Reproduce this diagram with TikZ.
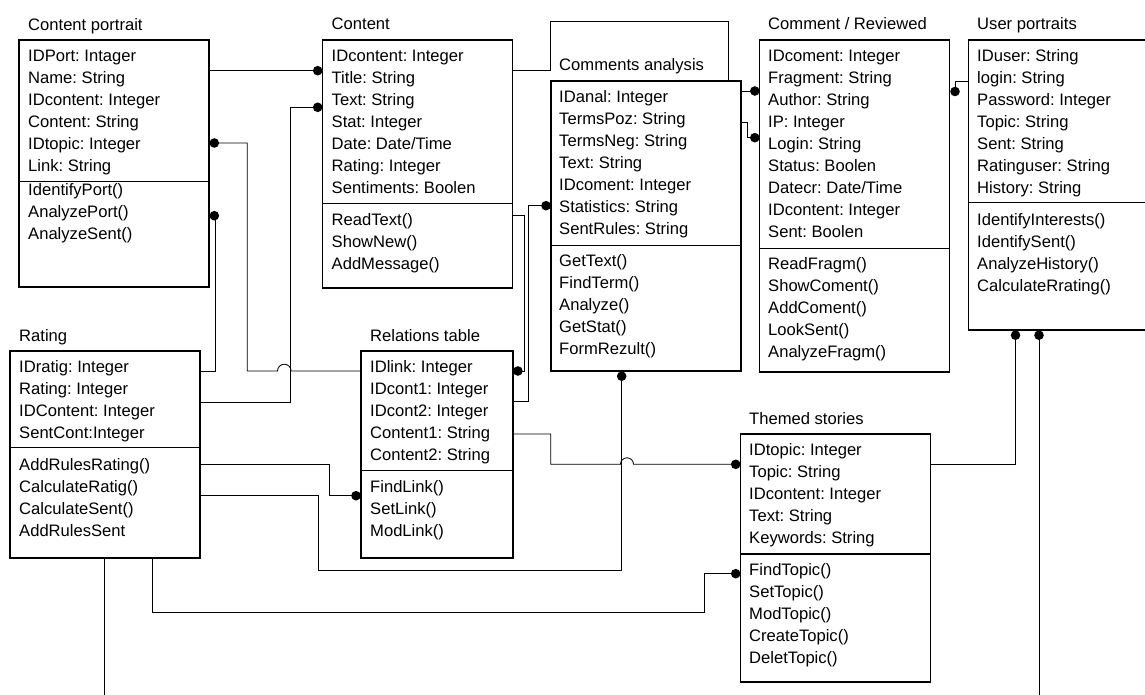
\documentclass[tikz,border=0pt]{standalone}
\usepackage{fontspec}
\setmainfont{Liberation Sans}
\usetikzlibrary{backgrounds}
\frenchspacing

% one row of class text per line, 22pt apart, starting at a given baseline
\newcommand\classrows[4]{%
  \foreach \rowtext [count=\rowidx] in {#4}{%
    \node[rowtext] (#1\rowidx) at (#2,{#3+22*(\rowidx-1)}) {\rowtext};}}

\begin{document}
\begin{tikzpicture}[x=1pt,y=-1pt,
  classbox/.style={draw=black, line width=1.2pt, fill=white, rectangle,
    inner sep=0pt, outer sep=0pt, anchor=north west},
  divider/.style={line width=1.2pt},
  rowtext/.style={font=\fontsize{16.6}{22}\selectfont\frenchspacing, inner sep=0pt, anchor=base west},
  classtitle/.style={rowtext},
  link/.style={line width=0.85pt, draw=black},
  endpt/.style={circle, fill=black, inner sep=0pt, minimum size=9.6pt},
]
\useasboundingbox (0,0) rectangle (1145,695);
\clip (0,0) rectangle (1145,695);

% ---------- Content portrait ----------
\node[classtitle] (cp-t) at (28,30.5) {Content portrait};
\node[classbox, minimum width=190pt, minimum height=247pt] (cp) at (19,40) {};
\draw[divider] (19,181.7) -- (209,181.7);
\classrows{cp-a}{28}{61.5}{IDPort: Intager, Name: String, IDcontent: Integer, Content: String, IDtopic: Integer, Link: String}
\classrows{cp-m}{28}{195.5}{IdentifyPort(), AnalyzePort(), AnalyzeSent()}

% ---------- Content ----------
\node[classtitle] (ct-t) at (331.5,30) {Content};
\node[classbox, minimum width=190pt, minimum height=248pt] (ct) at (322.7,40) {};
\draw[divider] (322.7,203.3) -- (512.7,203.3);
\classrows{ct-a}{331.5}{61.5}{IDcontent: Integer, Title: String, Text: String, Stat: Integer, Date: Date/Time, Rating: Integer, Sentiments: Boolen}
\classrows{ct-m}{331.5}{225}{ReadText(), ShowNew(), AddMessage()}

% ---------- Comments analysis ----------
\node[classtitle] (ca-t) at (559,71) {Comments analysis};
\node[classbox, minimum width=190pt, minimum height=290pt] (ca) at (551,81) {};
\draw[divider] (551,245.3) -- (741,245.3);
\classrows{ca-a}{559}{102.5}{IDanal: Integer, TermsPoz: String, TermsNeg: String, Text: String, IDcoment: Integer, Statistics: String, SentRules: String}
\classrows{ca-m}{559}{266}{GetText(), FindTerm(), Analyze(), GetStat(), FormRezult()}

% ---------- Comment / Reviewed ----------
\node[classtitle] (cr-t) at (768,30) {Comment / Reviewed};
\node[classbox, minimum width=190pt, minimum height=332pt] (cr) at (759.8,40) {};
\draw[divider] (759.8,248.3) -- (949.8,248.3);
\classrows{cr-a}{768}{61.5}{IDcoment: Integer, Fragment: String, Author: String, IP: Integer, Login: String, Status: Boolen, Datecr: Date/Time, IDcontent: Integer, Sent: Boolen}
\classrows{cr-m}{768}{269.5}{ReadFragm(), ShowComent(), AddComent(), LookSent(), AnalyzeFragm()}

% ---------- User portraits ----------
\node[classtitle] (up-t) at (977,30) {User portraits};
\node[classbox, minimum width=190pt, minimum height=290pt] (up) at (968.5,40) {};
\draw[divider] (968.5,202.7) -- (1158.5,202.7);
\classrows{up-a}{977}{61.5}{IDuser: String, login: String, Password: Integer, Topic: String, Sent: String, Ratinguser: String, History: String}
\classrows{up-m}{977}{225}{IdentifyInterests(), IdentifySent(), AnalyzeHistory(), CalculateRrating()}

% ---------- Rating ----------
\node[classtitle] (rt-t) at (19,341) {Rating};
\node[classbox, minimum width=190pt, minimum height=207pt] (rt) at (10,351) {};
\draw[divider] (10,447.7) -- (200,447.7);
\classrows{rt-a}{19}{372.3}{IDratig: Integer, Rating: Integer, IDContent: Integer, SentCont:Integer}
\classrows{rt-m}{19}{470.5}{AddRulesRating(), CalculateRatig(), CalculateSent(), AddRulesSent}

% ---------- Relations table ----------
\node[classtitle] (rl-t) at (370,341) {Relations table};
\node[classbox, minimum width=152pt, minimum height=207pt] (rl) at (361,351) {};
\draw[divider] (361,470.3) -- (513,470.3);
\classrows{rl-a}{370}{372}{IDlink: Integer, IDcont1: Integer, IDcont2: Integer, Content1: String, Content2: String}
\classrows{rl-m}{370}{492.8}{FindLink(), SetLink(), ModLink()}

% ---------- Themed stories ----------
\node[classtitle] (ts-t) at (749,424) {Themed stories};
\node[classbox, minimum width=190pt, minimum height=248pt] (ts) at (740.7,434) {};
\draw[divider] (740.7,554) -- (930.7,554);
\classrows{ts-a}{749}{455.3}{IDtopic: Integer, Topic: String, IDcontent: Integer, Text: String, Keywords: String}
\classrows{ts-m}{749}{575.5}{FindTopic(), SetTopic(), ModTopic(), CreateTopic(), DeletTopic()}

% ---------- association ends ----------
\node[endpt] (d1)  at (317.7,70.7)  {};
\node[endpt] (d2)  at (317.7,107.3) {};
\node[endpt] (d3)  at (214.3,143)   {};
\node[endpt] (d4)  at (214.3,215.7) {};
\node[endpt] (d5)  at (754.8,91)    {};
\node[endpt] (d6)  at (754.8,137.7) {};
\node[endpt] (d7)  at (517.9,371)   {};
\node[endpt] (d8)  at (546,205.7)   {};
\node[endpt] (d9)  at (621.7,376.2) {};
\node[endpt] (d10) at (356,495.7)   {};
\node[endpt] (d11) at (735.7,464.3) {};
\node[endpt] (d12) at (735.7,573.7) {};
\node[endpt] (d13) at (1015.5,335.2) {};
\node[endpt] (d14) at (1039,335.2)  {};
\node[endpt] (d15) at (955,91.5)    {};

% free ends running off the lower edge
\coordinate (fe1) at (104.7,695);
\coordinate (fe2) at (1039,695);

% ---------- connectors (behind the class boxes) ----------
\begin{pgfonlayer}{background}
\draw[link] (cp.east |- d1) -- (d1.center);
\draw[link] (d2.center) -- (290,107.3) -- (290,402) -- (rt.east |- 0,402);
\draw[link] (d3.center) -- (247.3,143) -- (247.3,371) -- (277.5,371)
  arc[start angle=180, end angle=360, radius=6.8] -- (rl.west |- 0,371);
\draw[link] (d4.center) -- (215.5,215.7) -- (215.5,371) -- (rt.east |- 0,371);
\draw[link] (ct.east |- 0,70.7) -- (550,70.7) -- (550,21) -- (728,21) -- (728,91) -- (d5.center);
\draw[link] (ca.east |- 0,122.3) -- (747.5,122.3) -- (747.5,137.7) -- (d6.center);
\draw[link] (ct.east |- 0,215.7) -- (524,215.7) -- (524,371) -- (d7.center);
\draw[link] (d8.center) -- (528.3,205.7) -- (528.3,401.7) -- (rl.east |- 0,401.7);
\draw[link] (d9.center) -- (621.7,570.7) -- (318.3,570.7) -- (318.3,495.7) -- (rt.east |- 0,495.7);
\draw[link] (rt.east |- 0,464.3) -- (329.3,464.3) -- (329.3,495.7) -- (d10.center);
\draw[link] (rl.east |- 0,434) -- (550.7,434) -- (550.7,464.3) -- (620.5,464.3)
  arc[start angle=180, end angle=360, radius=6.5] -- (d11.center);
\draw[link] (152.3,558) -- (152.3,612.5) -- (704,612.5) -- (704,573.7) -- (d12.center);
\draw[link] (fe1 |- rt.south) -- (fe1);
\draw[link] (d13.center) -- (1015.5,464.3) -- (ts.east |- 0,464.3);
\draw[link] (d14.center) -- (fe2);
\draw[link] (up.west |- 0,81.7) -- (955,81.7) -- (d15.center);
\end{pgfonlayer}
\end{tikzpicture}
\end{document}
